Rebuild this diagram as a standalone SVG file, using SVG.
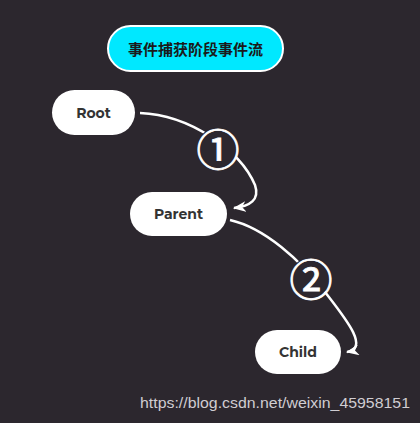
<svg xmlns="http://www.w3.org/2000/svg" width="420" height="423" viewBox="0 0 420 423">
<defs>
<style>
.node rect{fill:#ffffff;}
.node text{font-family:Montserrat,"Open Sans","Liberation Sans",sans-serif;font-weight:700;font-size:14px;fill:#333333;text-anchor:middle;dominant-baseline:central;}
.edge{fill:none;stroke:#ffffff;stroke-width:2.5;}
.num{font-family:"Noto Sans CJK SC","DejaVu Sans",sans-serif;font-size:43px;fill:#ffffff;stroke:#ffffff;stroke-width:0.9;text-anchor:middle;dominant-baseline:central;}
.gap{fill:#2c272e;}
</style>
<marker id="arr" viewBox="0 0 12 10" refX="11" refY="5" markerWidth="13" markerHeight="11" markerUnits="userSpaceOnUse" orient="auto">
<path d="M0,0 L12,5 L0,10 L3.5,5 z" fill="#ffffff"/>
</marker>
</defs>
<rect width="420" height="423" fill="#2c272e"/>
<g id="connectors">
<path class="edge" d="M140,113 C190,115 240,150 255,185 C260,200 250,206 234,208" marker-end="url(#arr)"/>
<path class="edge" d="M230,220 C265,228 300,260 325,292 C345,318 370,348 347,352" marker-end="url(#arr)"/>
<circle class="gap" cx="218" cy="147" r="20"/>
<text class="num" x="218" y="147">①</text>
<circle class="gap" cx="311" cy="277" r="20"/>
<text class="num" x="311" y="277">②</text>
</g>
<g id="title">
<rect x="108" y="26" width="175" height="45" rx="22.5" fill="#00e8ff" stroke="#ffffff" stroke-width="2"/>
<text x="195.5" y="48.5" font-family="'Noto Sans CJK SC',sans-serif" font-weight="700" font-size="15" fill="#1a1a1a" text-anchor="middle" dominant-baseline="central">事件捕获阶段事件流</text>
</g>
<g id="root" class="node">
<rect x="52" y="90" width="83" height="45" rx="22.5"/>
<text x="93.5" y="112.5">Root</text>
</g>
<g id="parent" class="node">
<rect x="130" y="192" width="97" height="44" rx="22"/>
<text x="178.5" y="214">Parent</text>
</g>
<g id="child" class="node">
<rect x="255" y="330" width="86" height="44" rx="22"/>
<text x="298" y="352">Child</text>
</g>
<text x="140" y="408" font-family="'Liberation Sans',Arial,sans-serif" font-size="15.5" fill="#d0cdd2" textLength="270" lengthAdjust="spacingAndGlyphs">https://blog.csdn.net/weixin_45958151</text>
</svg>
